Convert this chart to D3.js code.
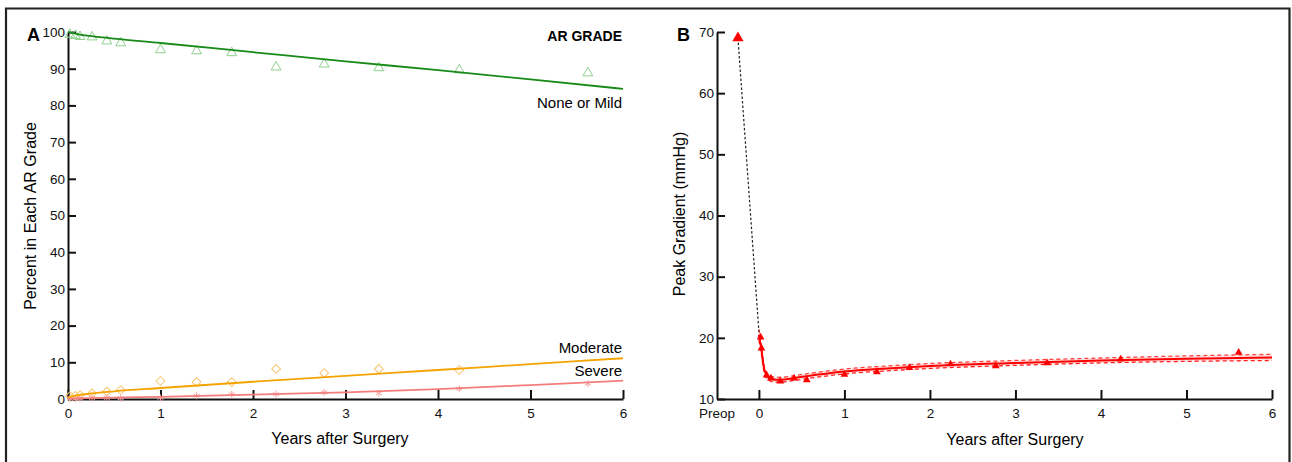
<!DOCTYPE html>
<html><head><meta charset="utf-8">
<script src="https://cdn.jsdelivr.net/npm/d3@7"></script>
<style>
html,body{margin:0;padding:0;background:#fff;}
text{font-family:"Liberation Sans",Arial,Helvetica,sans-serif;}
</style></head>
<body>
<svg id="c" width="1292" height="462"></svg>
<script>
// ---------- Data ----------
const yearsA = [0.02, 0.08, 0.13, 0.26, 0.42, 0.57, 1.0, 1.39, 1.77, 2.25, 2.77, 3.36, 4.23, 5.62];
const noneMild = [99.6, 99.3, 99.0, 98.9, 97.8, 97.3, 95.4, 95.1, 94.6, 90.7, 91.5, 90.5, 89.9, 89.1];
const moderate = [0.8, 0.9, 1.1, 1.55, 2.0, 2.45, 4.9, 4.6, 4.6, 8.2, 7.1, 8.2, 7.9, null];
const severe   = [0.1, 0.1, 0.2, 0.3, 0.3, 0.2, 0.3, 0.9, 1.3, 1.3, 1.8, 1.55, 2.8, 4.2];

const fitYearsA   = [0, 0.1, 0.25, 0.5, 1, 2, 3, 4, 5, 6];
const noneFit     = [100, 99.4, 98.9, 98.2, 97.0, 94.5, 92.0, 89.6, 87.1, 84.5];
const moderateFit = [0.5, 1.0, 1.5, 2.1, 3.0, 4.7, 6.3, 7.9, 9.5, 11.1];
const severeFit   = [0.05, 0.15, 0.25, 0.4, 0.6, 1.2, 1.8, 2.7, 3.8, 5.0];

const yearsB   = [0.02, 0.03, 0.09, 0.14, 0.25, 0.41, 0.56, 1.0, 1.38, 1.76, 2.24, 2.77, 3.37, 4.23, 5.61];
const gradient = [20.1, 18.3, 13.9, 13.4, 12.9, 13.4, 13.1, 14.0, 14.4, 15.1, 15.7, 15.4, 15.9, 16.5, 17.6];
const preopYear = -0.245, preopValue = 69.0;

const fitYearsB = [0, 0.03, 0.06, 0.09, 0.13, 0.2, 0.3, 0.45, 0.7, 1, 1.5, 2, 3, 4, 5, 6];
const fitB      = [20.5, 18.0, 15.0, 13.9, 13.4, 13.15, 13.2, 13.5, 14.0, 14.5, 15.0, 15.4, 15.9, 16.3, 16.6, 16.8];
const bandHalf  = [0.9, 0.8, 0.6, 0.5, 0.45, 0.4, 0.4, 0.4, 0.4, 0.4, 0.4, 0.4, 0.4, 0.4, 0.45, 0.5];

const ticksA_x = [0,1,2,3,4,5,6];
const ticksA_y = [0,10,20,30,40,50,60,70,80,90,100];
const ticksB_x = [0,1,2,3,4,5,6];
const ticksB_y = [10,20,30,40,50,60,70];

// ---------- Setup ----------
const svg = d3.select("#c");
// frame
svg.append("path").attr("d","M6,470 V8.5 H1289.5 V470").attr("fill","none").attr("stroke","#222").attr("stroke-width",2.2);

const xA = d3.scaleLinear().domain([0,6]).range([68,623]);
const yA = d3.scaleLinear().domain([0,100]).range([399,32]);
const xB = d3.scaleLinear().domain([-0.49,6]).range([717,1272]);
const yB = d3.scaleLinear().domain([10,70]).range([399,32]);

function styleAxis(g){
  g.select(".domain").attr("stroke","#111").attr("stroke-width",2);
  g.selectAll(".tick line").attr("stroke","#111").attr("stroke-width",2);
  g.selectAll(".tick text").attr("font-size",13.5).attr("fill","#111")
   .attr("font-family",'"Liberation Sans",Arial,sans-serif');
}

// ---------- Panel A ----------
const gA = svg.append("g");
gA.append("g").attr("transform","translate(0,399)")
  .call(d3.axisBottom(xA).tickValues(ticksA_x).tickFormat(d3.format("d")).tickSizeInner(-9).tickSizeOuter(0).tickPadding(9))
  .call(styleAxis);
gA.append("g").attr("transform","translate(68,0)")
  .call(d3.axisLeft(yA).tickValues(ticksA_y).tickFormat(d3.format("d")).tickSizeInner(-8).tickSizeOuter(0).tickPadding(3))
  .call(styleAxis);

const lineA = (ys) => d3.line().x((d,i)=>xA(fitYearsA[i])).y(d=>yA(d)).curve(d3.curveMonotoneX)(ys);

// markers
const triSym = d3.symbol().type(d3.symbolTriangle).size(42);
gA.append("g").selectAll("path").data(noneMild).join("path")
  .attr("d",triSym).attr("transform",(d,i)=>`translate(${xA(yearsA[i])},${yA(d)+1})`)
  .attr("fill","none").attr("stroke","#8fd08f").attr("stroke-width",1);
const sqSym = d3.symbol().type(d3.symbolSquare).size(38);
gA.append("g").selectAll("path").data(moderate.map((v,i)=>[yearsA[i],v]).filter(d=>d[1]!=null)).join("path")
  .attr("d",sqSym).attr("transform",d=>`translate(${xA(d[0])},${yA(d[1])}) rotate(45)`)
  .attr("fill","none").attr("stroke","#f8c470").attr("stroke-width",1);
const astSym = d3.symbol().type(d3.symbolAsterisk || d3.symbolTimes).size(34);
gA.append("g").selectAll("path").data(severe).join("path")
  .attr("d",astSym).attr("transform",(d,i)=>`translate(${xA(yearsA[i])},${yA(d)})`)
  .attr("fill","none").attr("stroke","#f4a4a4").attr("stroke-width",1);

// fit lines
gA.append("path").attr("d",lineA(noneFit)).attr("fill","none").attr("stroke","#178a17").attr("stroke-width",1.8);
gA.append("path").attr("d",lineA(moderateFit)).attr("fill","none").attr("stroke","#f5a300").attr("stroke-width",1.8);
gA.append("path").attr("d",lineA(severeFit)).attr("fill","none").attr("stroke","#f47c7c").attr("stroke-width",1.8);

// texts
gA.append("text").attr("x",27).attr("y",41).attr("font-size",18).attr("font-weight","bold").text("A");
gA.append("text").attr("x",622).attr("y",41).attr("text-anchor","end").attr("font-size",14).attr("font-weight","bold").text("AR GRADE");
gA.append("text").attr("x",622).attr("y",108).attr("text-anchor","end").attr("font-size",15).text("None or Mild");
gA.append("text").attr("x",622).attr("y",353).attr("text-anchor","end").attr("font-size",15).text("Moderate");
gA.append("text").attr("x",622).attr("y",376).attr("text-anchor","end").attr("font-size",15).text("Severe");
gA.append("text").attr("x",340).attr("y",444).attr("text-anchor","middle").attr("font-size",16).text("Years after Surgery");
gA.append("text").attr("transform","translate(36,216) rotate(-90)").attr("text-anchor","middle").attr("font-size",16).text("Percent in Each AR Grade");

// ---------- Panel B ----------
const gB = svg.append("g");
gB.append("g").attr("transform","translate(0,399)")
  .call(d3.axisBottom(xB).tickValues(ticksB_x).tickFormat(d3.format("d")).tickSizeInner(-9).tickSizeOuter(0).tickPadding(9))
  .call(styleAxis);
gB.append("g").attr("transform","translate(717,0)")
  .call(d3.axisLeft(yB).tickValues(ticksB_y).tickFormat(d3.format("d")).tickSizeInner(-8).tickSizeOuter(0).tickPadding(3))
  .call(styleAxis);
gB.append("text").attr("x",xB(-0.49)).attr("y",418).attr("text-anchor","middle").attr("font-size",13.5).attr("fill","#111").text("Preop");

// band
const bandUp = d3.line().x((d,i)=>xB(fitYearsB[i])).y((d,i)=>yB(d+bandHalf[i])).curve(d3.curveMonotoneX);
const bandLo = d3.line().x((d,i)=>xB(fitYearsB[i])).y((d,i)=>yB(d-bandHalf[i])).curve(d3.curveMonotoneX);
const bandArea = d3.area().x((d,i)=>xB(fitYearsB[i])).y0((d,i)=>yB(d-bandHalf[i])).y1((d,i)=>yB(d+bandHalf[i])).curve(d3.curveMonotoneX);
gB.append("path").attr("d",bandArea(fitB)).attr("fill","#ffd0d0").attr("opacity",0.6);
gB.append("path").attr("d",bandUp(fitB)).attr("fill","none").attr("stroke","#ff4040").attr("stroke-width",1.3).attr("stroke-dasharray","4,3");
gB.append("path").attr("d",bandLo(fitB)).attr("fill","none").attr("stroke","#ff2020").attr("stroke-width",1.3).attr("stroke-dasharray","4,3");

// black dotted connector preop -> first post-op
gB.append("path").attr("d",d3.line().x(d=>xB(d[0])).y(d=>yB(d[1]))([[preopYear,preopValue],[0.0,21.0]]))
  .attr("fill","none").attr("stroke","#222").attr("stroke-width",1.2).attr("stroke-dasharray","2.5,2");

// fit line
gB.append("path").attr("d",d3.line().x((d,i)=>xB(fitYearsB[i])).y(d=>yB(d)).curve(d3.curveMonotoneX)(fitB))
  .attr("fill","none").attr("stroke","#ff0000").attr("stroke-width",2);

// points
const triB = d3.symbol().type(d3.symbolTriangle).size(26);
gB.append("g").selectAll("path").data(gradient).join("path")
  .attr("d",triB).attr("transform",(d,i)=>`translate(${xB(yearsB[i])},${yB(d)})`)
  .attr("fill","#ff0000");
gB.append("path").attr("d",d3.symbol().type(d3.symbolTriangle).size(55)())
  .attr("transform",`translate(${xB(preopYear)},${yB(preopValue)})`).attr("fill","#ff0000");

gB.append("text").attr("x",677).attr("y",41).attr("font-size",18).attr("font-weight","bold").text("B");
gB.append("text").attr("x",1015).attr("y",445).attr("text-anchor","middle").attr("font-size",16).text("Years after Surgery");
gB.append("text").attr("transform","translate(685,214) rotate(-90)").attr("text-anchor","middle").attr("font-size",16).text("Peak Gradient (mmHg)");
</script>
</body></html>
